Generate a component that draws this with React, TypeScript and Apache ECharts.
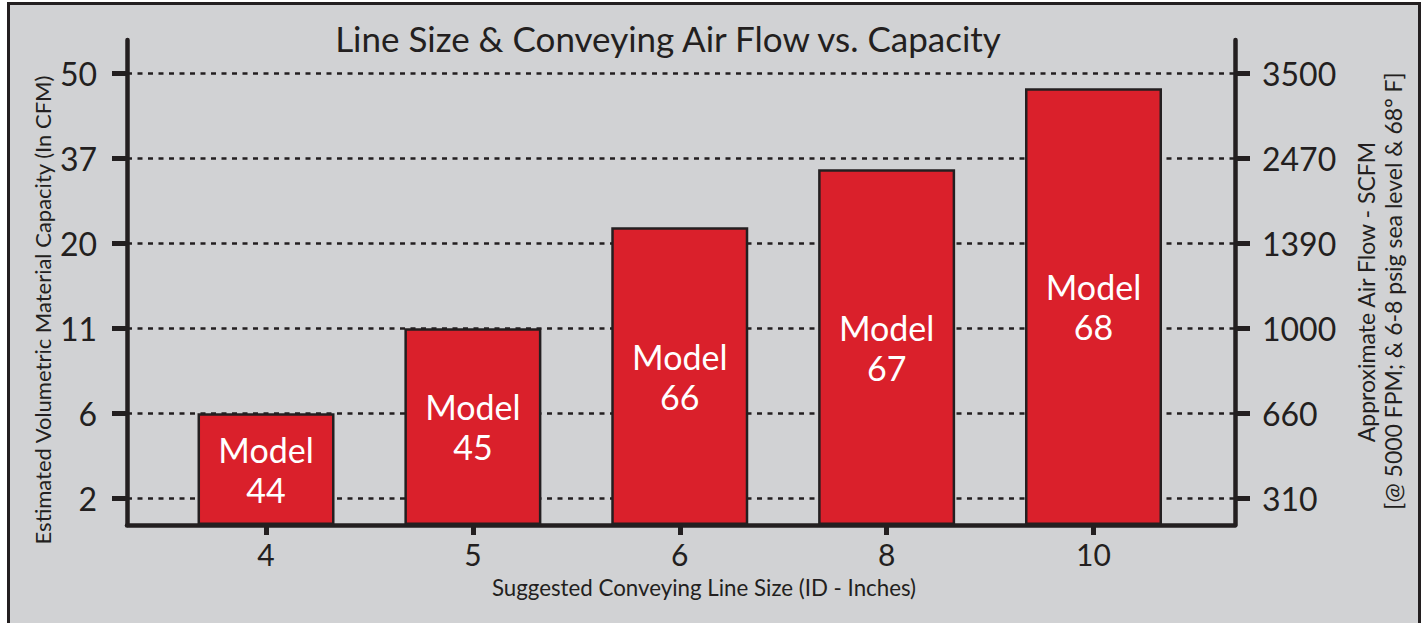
import React, { useEffect, useRef } from "react";
import * as echarts from "echarts";

// ---- data ----
const lineSizes = ["4", "5", "6", "8", "10"];
const models = ["44", "45", "66", "67", "68"];
const capacity = [6, 11, 23.2, 34.8, 47.7]; // CFM
const capacityTicks = [2, 6, 11, 20, 37, 50];
const airflowTicks = [310, 660, 1000, 1390, 2470, 3500];

// ---- layout / scale constants ----
const FONT = "Lato, 'Open Sans', sans-serif";
const INK = "#231f20";
const BASE = 0.314; // axis position of first tick above baseline (tick spacing = 1)
const Y_MAX = 5.706;
const X_MIN = -0.672;
const X_MAX = 4.684;

const tickLevels = capacityTicks.map((_, i) => BASE + i);

// piecewise-linear placement of a capacity value on the evenly spaced tick scale
function levelOf(v: number): number {
  const t = capacityTicks;
  if (v <= t[0]) return (BASE * v) / t[0];
  for (let i = 0; i < t.length - 1; i++) {
    if (v <= t[i + 1]) return BASE + i + (v - t[i]) / (t[i + 1] - t[i]);
  }
  return BASE + t.length - 1;
}

export default function App() {
  const ref = useRef<HTMLDivElement>(null);
  useEffect(() => {
    if (!ref.current) return;
    const chart = echarts.init(ref.current, undefined, { renderer: "svg" });
    const yAxisCommon = {
      type: "value" as const,
      min: 0,
      max: Y_MAX,
      axisLine: { show: true, onZero: false, lineStyle: { color: INK, width: 4.5 } },
      axisTick: {
        show: true,
        customValues: tickLevels,
        length: 15,
        lineStyle: { color: INK, width: 5 },
      },
      splitLine: { show: false },
    };
    chart.setOption({
      animation: false,
      backgroundColor: "#d1d2d4",
      grid: { left: 127, right: 189, top: 40, bottom: 98, containLabel: false },
      xAxis: {
        type: "value",
        min: X_MIN,
        max: X_MAX,
        axisLine: { show: true, onZero: false, lineStyle: { color: INK, width: 4.5 } },
        axisTick: {
          show: true,
          customValues: [0, 1, 2, 3, 4],
          length: 10,
          lineStyle: { color: INK, width: 5 },
        },
        axisLabel: {
          customValues: [0, 1, 2, 3, 4],
          formatter: (v: number) => lineSizes[Math.round(v)] ?? "",
          fontSize: 30,
          fontFamily: FONT,
          color: INK,
          margin: 14,
        },
        splitLine: { show: false },
      },
      yAxis: [
        {
          ...yAxisCommon,
          position: "left",
          axisLabel: {
            customValues: tickLevels,
            formatter: (v: number) => String(capacityTicks[Math.round(v - BASE)] ?? ""),
            fontSize: 32,
            fontFamily: FONT,
            color: INK,
            margin: 30,
          },
        },
        {
          ...yAxisCommon,
          position: "right",
          axisLabel: {
            customValues: tickLevels,
            formatter: (v: number) => String(airflowTicks[Math.round(v - BASE)] ?? ""),
            fontSize: 32,
            fontFamily: FONT,
            color: INK,
            margin: 27,
          },
        },
      ],
      series: [
        {
          type: "bar",
          xAxisIndex: 0,
          yAxisIndex: 0,
          z: 3,
          barWidth: 137,
          data: capacity.map((v, i) => [i, levelOf(v)]),
          itemStyle: { color: "#da202b", borderColor: INK, borderWidth: 2.5 },
          label: {
            show: true,
            position: "inside",
            formatter: (p: any) => `Model\n${models[p.dataIndex]}`,
            color: "#ffffff",
            fontSize: 34,
            lineHeight: 40,
            fontFamily: FONT,
          },
          markLine: {
            silent: true,
            z: 1,
            symbol: ["none", "none"],
            label: { show: false },
            lineStyle: { color: INK, width: 2.5, type: [5, 5.5] },
            data: tickLevels.map((l) => ({ yAxis: l })),
          },
        },
      ],
      graphic: [
        {
          type: "rect",
          shape: { x: 8.5, y: 3.5, width: 1411, height: 660 },
          style: { fill: "none", stroke: INK, lineWidth: 3 },
          silent: true,
        },
        { type: "rect", shape: { x: 0, y: 0, width: 1424, height: 2 }, style: { fill: "#fff" }, silent: true },
        { type: "rect", shape: { x: 0, y: 0, width: 7, height: 623 }, style: { fill: "#fff" }, silent: true },
        { type: "rect", shape: { x: 1421, y: 0, width: 3, height: 623 }, style: { fill: "#fff" }, silent: true },
        {
          type: "text",
          x: 668,
          y: 38,
          style: {
            text: "Line Size & Conveying Air Flow vs. Capacity",
            fontSize: 35,
            fontFamily: FONT,
            fill: INK,
            align: "center",
            verticalAlign: "middle",
          },
        },
        {
          type: "text",
          x: 704,
          y: 587,
          style: {
            text: "Suggested Conveying Line Size (ID - Inches)",
            fontSize: 22.3,
            fontFamily: FONT,
            fill: INK,
            align: "center",
            verticalAlign: "middle",
          },
        },
        {
          type: "text",
          x: 42,
          y: 310,
          rotation: Math.PI / 2,
          style: {
            text: "Estimated Volumetric Material Capacity (In CFM)",
            fontSize: 22,
            fontFamily: FONT,
            fill: INK,
            align: "center",
            verticalAlign: "middle",
          },
        },
        {
          type: "text",
          x: 1366,
          y: 292,
          rotation: Math.PI / 2,
          style: {
            text: "Approximate Air Flow - SCFM",
            fontSize: 23,
            fontFamily: FONT,
            fill: INK,
            align: "center",
            verticalAlign: "middle",
          },
        },
        {
          type: "text",
          x: 1393,
          y: 291,
          rotation: Math.PI / 2,
          style: {
            text: "[@ 5000 FPM; & 6-8 psig sea level & 68° F]",
            fontSize: 23,
            fontFamily: FONT,
            fill: INK,
            align: "center",
            verticalAlign: "middle",
          },
        },
      ],
    });
    return () => chart.dispose();
  }, []);
  return (
    <div
      ref={ref}
      style={{ position: "fixed", left: 0, top: 0, width: 1424, height: 623 }}
    />
  );
}
